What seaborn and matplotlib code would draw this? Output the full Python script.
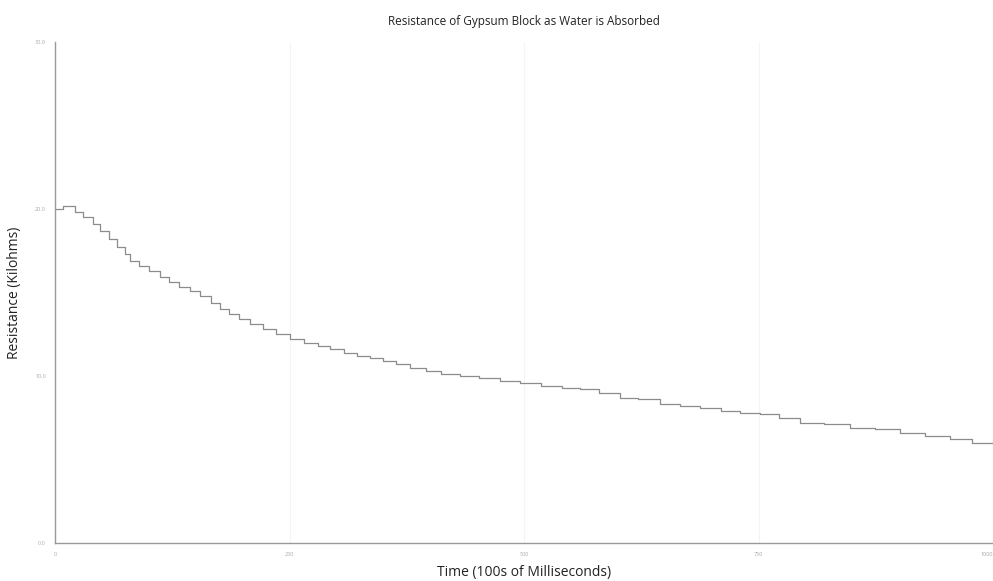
import numpy as np
import pandas as pd
import matplotlib
matplotlib.use("Agg")
import matplotlib.pyplot as plt
import seaborn as sns

# ── Data (time in 100s of ms, resistance in kilohms) ──
TIME = [0, 8, 21, 30, 40, 48, 58, 66, 75, 80, 90, 100, 112, 122, 132, 144,
        155, 166, 176, 186, 196, 208, 222, 236, 250, 265, 280, 293, 308,
        322, 336, 350, 364, 378, 395, 412, 432, 452, 474, 496, 518, 540,
        560, 580, 602, 622, 645, 666, 688, 710, 730, 752, 772, 794, 820,
        848, 874, 901, 928, 954, 978, 1000]
RESISTANCE = [20.0, 20.2, 19.8, 19.5, 19.1, 18.7, 18.2, 17.7, 17.3, 16.9,
              16.6, 16.3, 15.9, 15.6, 15.3, 15.1, 14.8, 14.4, 14.0, 13.7,
              13.4, 13.1, 12.8, 12.5, 12.2, 12.0, 11.8, 11.6, 11.4, 11.2,
              11.1, 10.9, 10.7, 10.5, 10.3, 10.1, 10.0, 9.9, 9.7, 9.6, 9.4,
              9.3, 9.2, 9.0, 8.7, 8.6, 8.3, 8.2, 8.1, 7.9, 7.8, 7.7, 7.5,
              7.2, 7.1, 6.9, 6.8, 6.6, 6.4, 6.2, 6.0, 6.0]
X_TICKS = [0, 250, 500, 750, 1000]
Y_TICKS = [0.0, 10.0, 20.0, 30.0]

df = pd.DataFrame({"time": TIME, "resistance": RESISTANCE})

sns.set_theme(style="white")
plt.rcParams["font.family"] = ["Open Sans", "DejaVu Sans"]

fig = plt.figure(figsize=(9.93, 5.81), dpi=100)
ax = fig.add_axes([0.0554, 0.0654, 0.9446, 0.8623])

sns.lineplot(data=df, x="time", y="resistance", ax=ax, color="#8c8c8c",
             linewidth=0.9, drawstyle="steps-post")

ax.set_xlim(0, 1000)
ax.set_ylim(0, 30)
ax.set_xticks(X_TICKS)
ax.set_xticklabels([str(v) for v in X_TICKS])
ax.get_xticklabels()[-1].set_ha("right")
ax.set_yticks(Y_TICKS)
ax.set_yticklabels([f"{v:.1f}" for v in Y_TICKS])
ax.tick_params(axis="both", labelsize=4, labelcolor="#aaaaaa", length=3,
               color="#999999", width=0.8, direction="out")
ax.xaxis.grid(True, color="#f4f4f4", linewidth=0.8)
ax.yaxis.grid(False)

for side in ["top", "right"]:
    ax.spines[side].set_visible(False)
for side in ["left", "bottom"]:
    ax.spines[side].set_color("#999999")
    ax.spines[side].set_linewidth(1.0)

ax.set_xlabel("Time (100s of Milliseconds)", fontsize=10, color="#222222",
              labelpad=6)
ax.set_ylabel("Resistance (Kilohms)", fontsize=10, color="#222222",
              labelpad=9)
fig.suptitle("Resistance of Gypsum Block as Water is Absorbed", fontsize=8.5,
             color="#222222", x=0.528, y=0.975)

fig.savefig("out.png", dpi=100)
plt.close(fig)
